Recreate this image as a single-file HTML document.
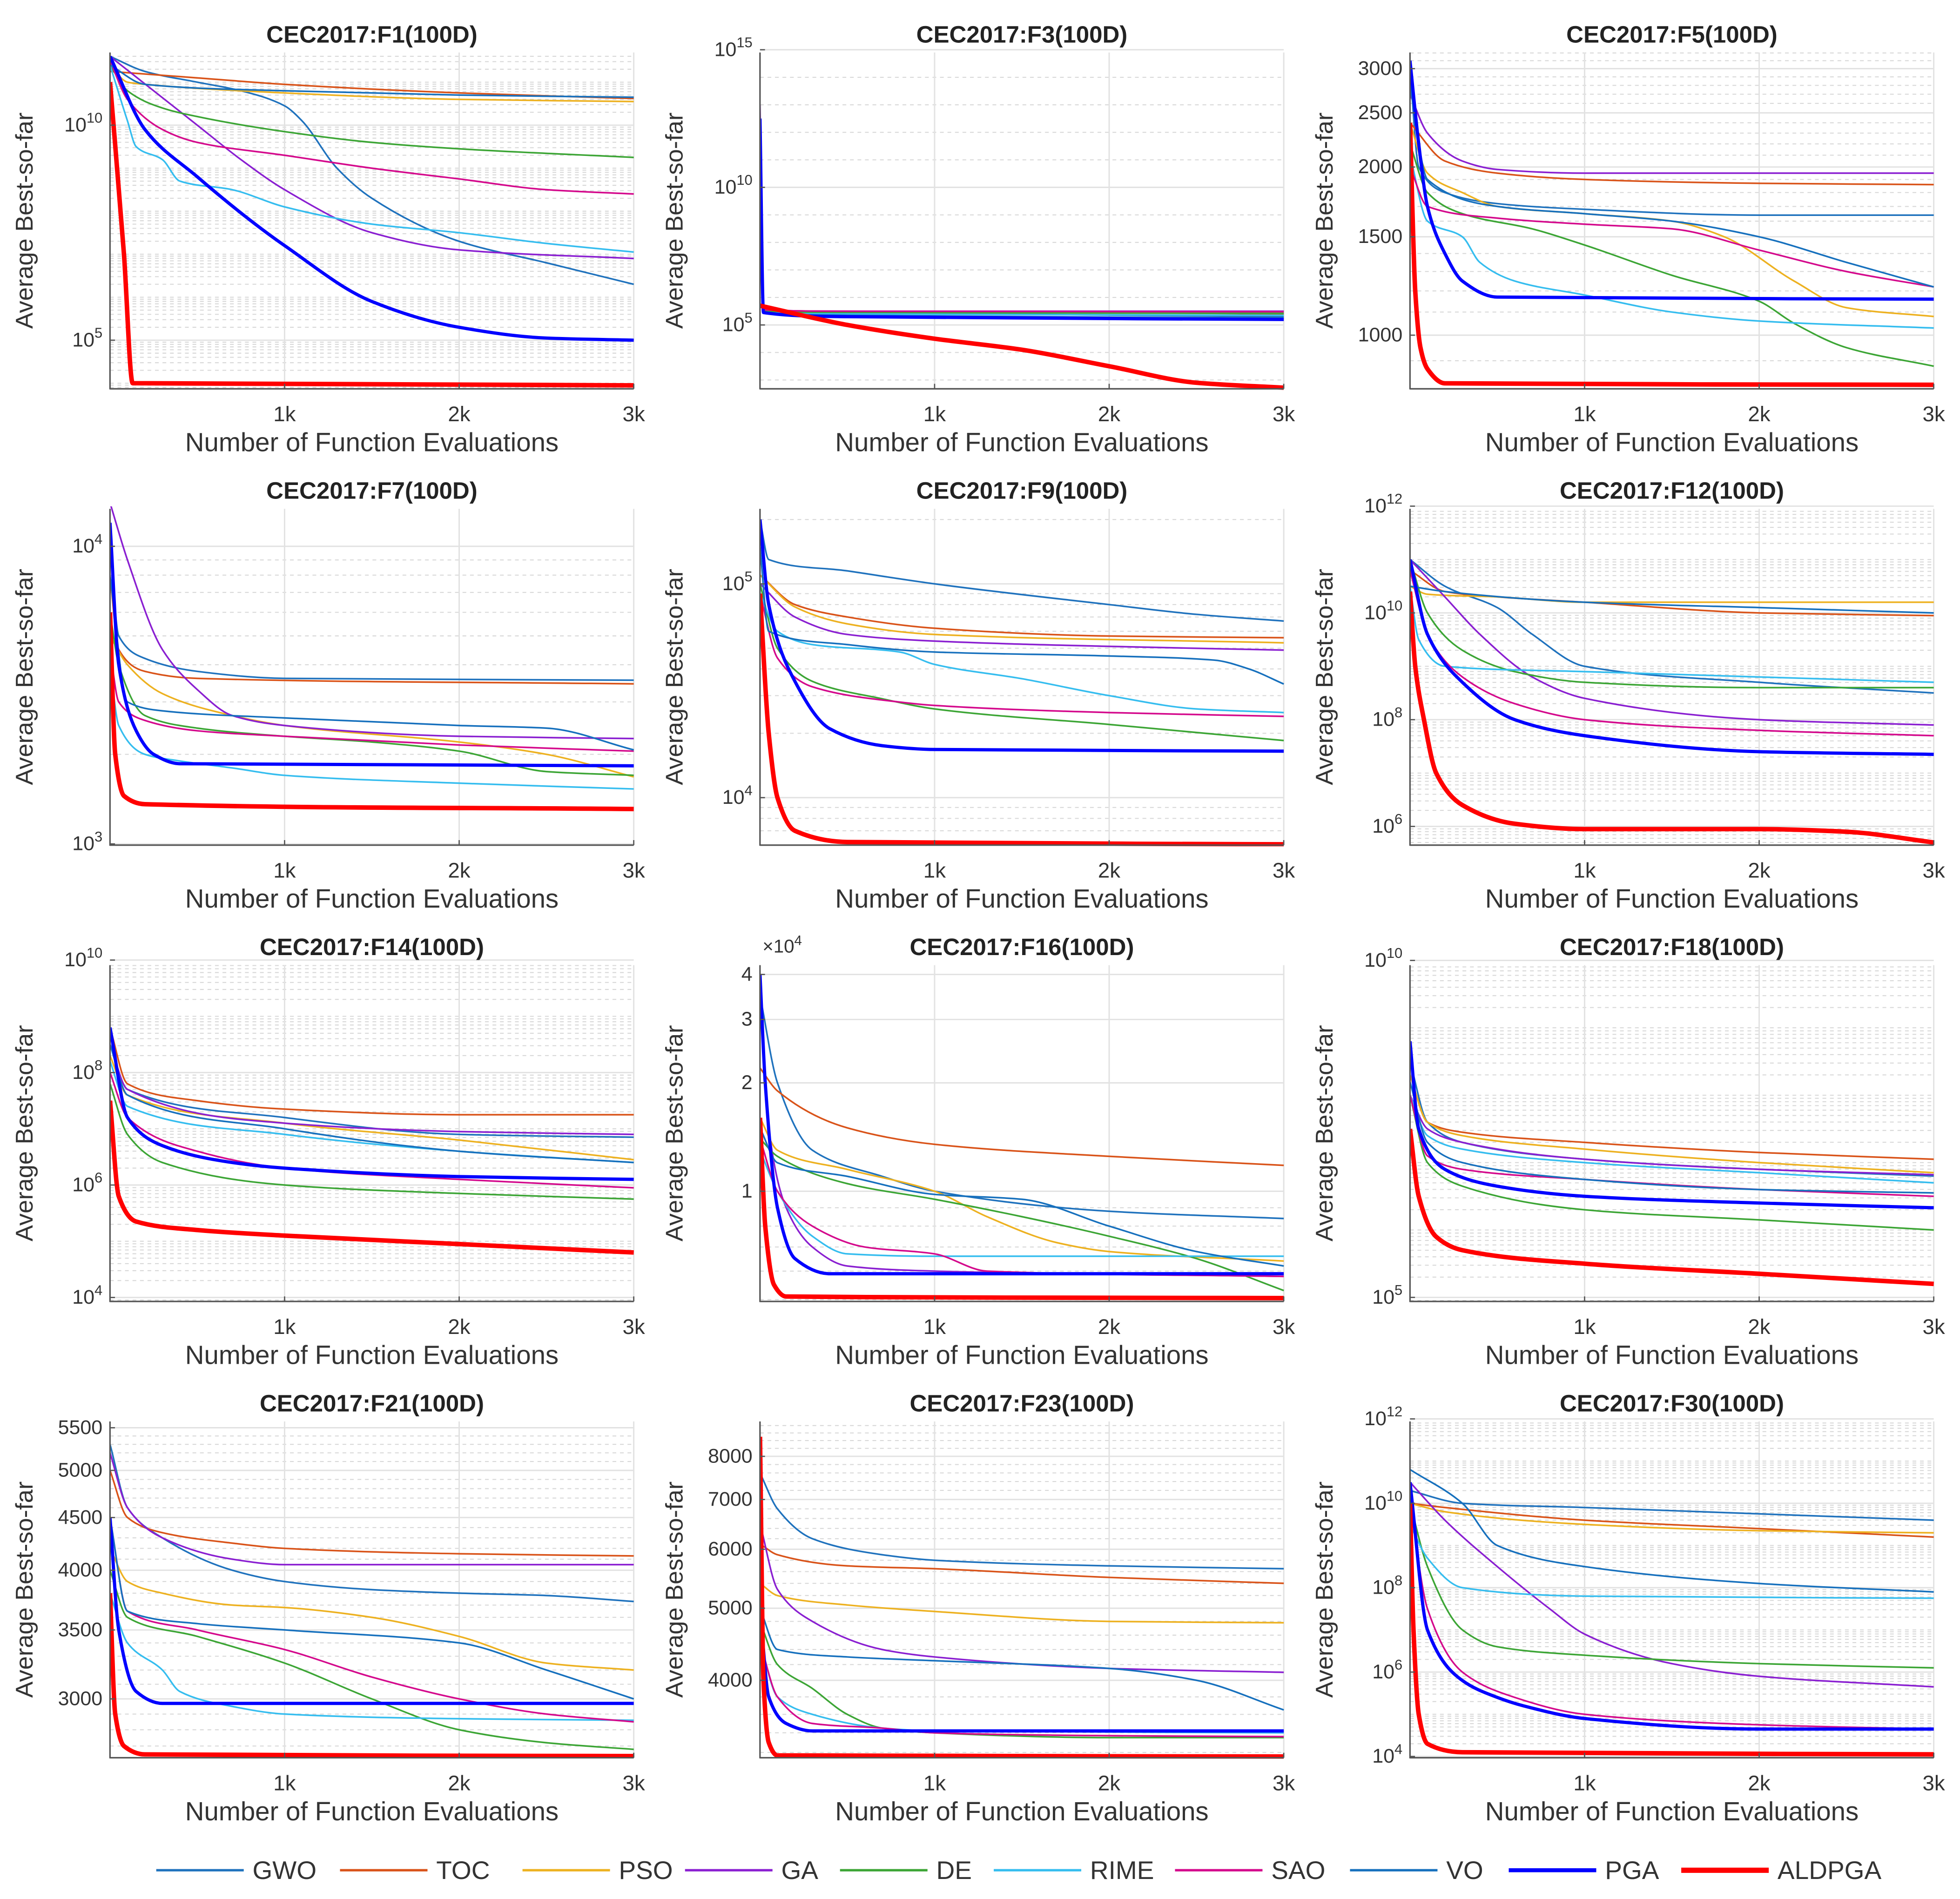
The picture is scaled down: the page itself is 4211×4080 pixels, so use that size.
<!DOCTYPE html>
<html><head><meta charset="utf-8"><title>CEC2017 convergence curves</title>
<style>
html,body{margin:0;padding:0;background:#fff;}
svg{display:block;font-family:"Liberation Sans",Arial,sans-serif;}
</style></head>
<body>
<svg id="fig" width="4211" height="4080" viewBox="0 0 1568 1519" preserveAspectRatio="none" xmlns="http://www.w3.org/2000/svg">
<rect x="0" y="0" width="1568" height="1519" fill="#fff"/>
<g id="panels"></g>
<g id="legend"></g>
</svg>
<script>
const algNames = ["GWO","TOC","PSO","GA","DE","RIME","SAO","VO","PGA","ALDPGA"];
const algColors = ["#1f72bd","#d95319","#edb120","#8a1fd1","#3ca535","#35bdef","#d4098c","#1670bd","#0000ff","#ff0000"];
const algWidths = [1.3,1.3,1.3,1.3,1.3,1.3,1.3,1.3,2.6,3.6];
const xTickValues = [1000,2000,3000];
const xTickLabels = ["1k","2k","3k"];

const titles = ["CEC2017:F1(100D)","CEC2017:F3(100D)","CEC2017:F5(100D)","CEC2017:F7(100D)","CEC2017:F9(100D)","CEC2017:F12(100D)","CEC2017:F14(100D)","CEC2017:F16(100D)","CEC2017:F18(100D)","CEC2017:F21(100D)","CEC2017:F23(100D)","CEC2017:F30(100D)"];
const expMode = [true,true,false,false,false,true,true,false,true,false,false,true];
const yDomains = [[3.87,11.69],[2.68,14.9],[2.904,3.506],[2.996,4.126],[3.778,5.351],[5.65,11.95],[3.93,9.91],[-0.306,0.628],[4.94,9.93],[3.42,3.7465],[3.498,3.95],[3.97,11.94]];
const yTicksF1 = [5,10], yTicksF3=[5,10,15], yTicksF5=[1000,1500,2000,2500,3000], yTicksF7=[3,4], yTicksF9=[4,5], yTicksF12=[6,8,10,12], yTicksF14=[4,6,8,10], yTicksF16=[1,2,3,4], yTicksF18=[5,10], yTicksF21=[3000,3500,4000,4500,5000,5500], yTicksF23=[4000,5000,6000,7000,8000], yTicksF30=[4,6,8,10,12];
const yTicks = [yTicksF1,yTicksF3,yTicksF5,yTicksF7,yTicksF9,yTicksF12,yTicksF14,yTicksF16,yTicksF18,yTicksF21,yTicksF23,yTicksF30];
const yTickIsPow = [true,true,false,true,true,true,true,false,true,false,false,true];
const minorStep = [0,0,100,0,0,0,0,0,0,100,200,0];

const F1 = {
 GWO:[[0,11.6],[200,11.25],[500,11.0],[750,10.8],[1000,10.45],[1100,10.1],[1300,9.0],[1500,8.3],[2000,7.3],[2500,6.8],[3000,6.3]],
 TOC:[[0,11.25],[500,11.1],[1000,10.95],[2000,10.75],[3000,10.62]],
 PSO:[[0,11.4],[100,11.0],[200,10.95],[1000,10.75],[2000,10.6],[3000,10.55]],
 GA:[[0,11.6],[500,10.0],[750,9.2],[1000,8.5],[1500,7.5],[2000,7.1],[3000,6.9]],
 DE:[[0,11.4],[100,10.8],[300,10.4],[500,10.2],[1000,9.85],[1500,9.6],[2000,9.45],[3000,9.25]],
 RIME:[[0,11.4],[100,10.1],[150,9.5],[300,9.2],[400,8.7],[700,8.5],[1000,8.1],[1500,7.7],[2000,7.5],[2500,7.25],[3000,7.05]],
 SAO:[[0,11.5],[100,10.6],[300,9.9],[500,9.6],[1000,9.3],[1500,9.0],[2000,8.75],[2500,8.5],[3000,8.4]],
 VO:[[0,11.4],[200,10.95],[1000,10.8],[2000,10.7],[3000,10.65]],
 PGA:[[0,11.6],[200,9.9],[500,8.8],[800,7.8],[1000,7.2],[1500,5.9],[2000,5.3],[2500,5.05],[3000,5.0]],
 ALDPGA:[[0,11.0],[80,7.0],[130,4.0],[3000,3.95]]
};
const F3 = {
 GWO:[[0,12.5],[20,5.5],[500,5.45],[3000,5.3]],
 TOC:[[0,11.5],[20,5.5],[500,5.5],[3000,5.4]],
 PSO:[[0,11.0],[20,5.45],[500,5.45],[3000,5.45]],
 GA:[[0,13.0],[20,5.55],[500,5.5],[3000,5.5]],
 DE:[[0,12.0],[20,5.5],[500,5.45],[3000,5.42]],
 RIME:[[0,11.0],[20,5.45],[500,5.4],[3000,5.35]],
 SAO:[[0,12.0],[20,5.55],[500,5.5],[3000,5.48]],
 VO:[[0,12.0],[20,5.45],[500,5.35],[3000,5.25]],
 PGA:[[0,12.5],[20,5.45],[500,5.3],[3000,5.2]],
 ALDPGA:[[0,5.7],[500,5.0],[1000,4.5],[1500,4.1],[2000,3.5],[2500,2.9],[3000,2.72]]
};
const F5 = {
 GWO:[[0,3000],[50,2000],[200,1800],[500,1720],[1000,1680],[2000,1640],[3000,1640]],
 TOC:[[0,2400],[200,2050],[500,1950],[1000,1900],[2000,1870],[3000,1860]],
 PSO:[[0,2400],[100,1950],[300,1800],[500,1700],[1000,1650],[1500,1600],[1800,1500],[2200,1250],[2500,1120],[3000,1080]],
 GA:[[0,2700],[100,2300],[300,2050],[500,1980],[1000,1950],[3000,1950]],
 DE:[[0,2200],[100,1800],[300,1650],[700,1550],[1000,1450],[1500,1280],[2000,1150],[2200,1050],[2500,950],[3000,880]],
 RIME:[[0,2100],[100,1600],[300,1500],[400,1350],[600,1250],[1000,1180],[1500,1100],[2000,1060],[3000,1030]],
 SAO:[[0,2000],[100,1700],[500,1620],[1000,1580],[1500,1550],[2000,1420],[2500,1300],[3000,1220]],
 VO:[[0,2800],[100,1900],[500,1700],[1000,1650],[1500,1600],[2000,1500],[2500,1350],[3000,1220]],
 PGA:[[0,3100],[50,2200],[100,1700],[200,1400],[300,1250],[500,1170],[3000,1160]],
 ALDPGA:[[0,2400],[30,1200],[60,950],[100,870],[200,820],[3000,815]]
};
const F7 = {
 GWO:[[0,10000],[50,5000],[200,4200],[500,3800],[1000,3600],[3000,3550]],
 TOC:[[0,8000],[50,4500],[200,3800],[500,3600],[3000,3450]],
 PSO:[[0,5000],[100,4000],[300,3200],[700,2700],[1000,2500],[2000,2200],[2500,2000],[3000,1680]],
 GA:[[0,14000],[100,9000],[300,4500],[500,3300],[700,2700],[1000,2500],[2000,2300],[3000,2260]],
 DE:[[0,6000],[50,4000],[200,2700],[500,2450],[1000,2300],[1500,2200],[2000,2050],[2500,1750],[3000,1700]],
 RIME:[[0,4000],[50,2500],[200,2000],[400,1900],[700,1800],[1000,1700],[2000,1600],[3000,1530]],
 SAO:[[0,4500],[50,3000],[200,2600],[500,2400],[1000,2300],[2000,2150],[3000,2050]],
 VO:[[0,8000],[100,3000],[300,2800],[1000,2650],[2000,2500],[2500,2450],[3000,2070]],
 PGA:[[0,12000],[50,4000],[150,2400],[250,2000],[400,1860],[3000,1830]],
 ALDPGA:[[0,6000],[30,2000],[80,1450],[200,1360],[3000,1310]]
};
const F9 = {
 GWO:[[0,200000],[50,130000],[500,115000],[1000,100000],[2000,80000],[2500,72000],[3000,67000]],
 TOC:[[0,110000],[200,80000],[500,70000],[1000,62000],[2000,57000],[3000,56000]],
 PSO:[[0,110000],[200,78000],[500,65000],[1000,58000],[3000,53000]],
 GA:[[0,100000],[200,70000],[500,58000],[1000,54000],[2000,51000],[3000,49000]],
 DE:[[0,100000],[100,50000],[300,35000],[700,29000],[1000,26000],[2000,22000],[3000,18500]],
 RIME:[[0,90000],[100,60000],[300,52000],[800,48000],[1000,42000],[1500,36000],[2000,30000],[2500,26000],[3000,25000]],
 SAO:[[0,90000],[100,45000],[300,33000],[800,28000],[1000,27000],[2000,25000],[3000,24000]],
 VO:[[0,150000],[50,60000],[500,52000],[1000,48000],[2000,46000],[2600,44000],[2800,40000],[3000,34000]],
 PGA:[[0,200000],[50,80000],[200,35000],[400,21000],[700,17500],[1000,16800],[3000,16500]],
 ALDPGA:[[0,90000],[50,20000],[100,10000],[200,7000],[500,6200],[3000,6050]]
};
const F12 = {
 GWO:[[0,11.0],[200,10.5],[500,10.1],[700,9.6],[1000,9.0],[2000,8.7],[3000,8.5]],
 TOC:[[0,10.8],[200,10.4],[500,10.3],[1000,10.2],[2000,10.0],[3000,9.95]],
 PSO:[[0,10.5],[100,10.35],[500,10.3],[1000,10.2],[3000,10.2]],
 GA:[[0,11.0],[200,10.3],[400,9.6],[700,8.8],[1000,8.4],[2000,8.0],[3000,7.9]],
 DE:[[0,11.0],[100,10.0],[300,9.3],[600,8.9],[1000,8.7],[2000,8.6],[3000,8.6]],
 RIME:[[0,10.5],[50,9.5],[200,9.0],[1000,8.9],[2000,8.8],[3000,8.7]],
 SAO:[[0,10.8],[100,9.6],[300,8.8],[600,8.3],[1000,8.0],[2000,7.8],[3000,7.7]],
 VO:[[0,10.5],[200,10.4],[1000,10.2],[2000,10.1],[3000,10.0]],
 PGA:[[0,11.0],[100,9.6],[300,8.7],[600,8.0],[1000,7.7],[2000,7.4],[3000,7.35]],
 ALDPGA:[[0,10.4],[30,9.0],[80,8.0],[150,7.0],[300,6.4],[600,6.05],[1000,5.95],[2000,5.95],[2500,5.9],[3000,5.7]]
};
const F14 = {
 GWO:[[0,8.5],[100,7.7],[1000,7.2],[2000,6.9],[3000,6.85]],
 TOC:[[0,8.8],[100,7.8],[500,7.5],[1000,7.35],[2000,7.25],[3000,7.25]],
 PSO:[[0,8.3],[100,7.6],[1000,7.1],[2000,6.8],[3000,6.45]],
 GA:[[0,8.5],[100,7.7],[1000,7.1],[2000,6.95],[3000,6.9]],
 DE:[[0,7.8],[100,6.9],[300,6.4],[1000,6.0],[2000,5.85],[3000,5.75]],
 RIME:[[0,8.2],[100,7.4],[1000,6.9],[2000,6.6],[3000,6.4]],
 SAO:[[0,8.0],[100,7.2],[500,6.6],[1000,6.3],[2000,6.1],[3000,5.95]],
 VO:[[0,8.5],[100,7.6],[1000,7.0],[2000,6.6],[3000,6.4]],
 PGA:[[0,8.8],[100,7.2],[300,6.7],[700,6.4],[1000,6.3],[2000,6.15],[3000,6.1]],
 ALDPGA:[[0,7.5],[50,5.8],[150,5.35],[500,5.2],[1000,5.1],[2000,4.95],[3000,4.8]]
};
const F16 = {
 GWO:[[0,3.5],[100,2.0],[300,1.3],[700,1.1],[1000,1.0],[2000,0.88],[3000,0.84]],
 TOC:[[0,2.2],[100,1.9],[500,1.5],[1000,1.35],[2000,1.25],[3000,1.18]],
 PSO:[[0,1.6],[100,1.3],[500,1.15],[1000,1.0],[1300,0.85],[1700,0.72],[2000,0.68],[3000,0.64]],
 GA:[[0,4.0],[50,1.5],[150,0.9],[300,0.7],[500,0.62],[1000,0.6],[3000,0.58]],
 DE:[[0,1.4],[100,1.25],[500,1.05],[1000,0.95],[1500,0.85],[2000,0.75],[2500,0.65],[3000,0.53]],
 RIME:[[0,1.3],[100,1.0],[300,0.75],[500,0.67],[1000,0.66],[2000,0.66],[3000,0.66]],
 SAO:[[0,1.4],[100,1.0],[300,0.8],[600,0.7],[1000,0.67],[1300,0.6],[3000,0.58]],
 VO:[[0,1.5],[100,1.2],[500,1.1],[1000,0.98],[1500,0.95],[2000,0.8],[2500,0.68],[3000,0.62]],
 PGA:[[0,4.0],[30,2.0],[100,0.9],[200,0.65],[400,0.59],[3000,0.59]],
 ALDPGA:[[0,1.6],[30,0.8],[80,0.55],[150,0.51],[3000,0.505]]
};
const F18 = {
 GWO:[[0,8.5],[100,7.6],[300,7.3],[1000,7.05],[2000,6.9],[3000,6.8]],
 TOC:[[0,8.3],[100,7.6],[300,7.45],[1000,7.3],[2000,7.15],[3000,7.05]],
 PSO:[[0,8.3],[100,7.6],[300,7.4],[1000,7.2],[2000,7.0],[3000,6.85]],
 GA:[[0,8.0],[100,7.5],[300,7.3],[1000,7.05],[2000,6.9],[3000,6.82]],
 DE:[[0,8.0],[100,7.0],[300,6.65],[1000,6.3],[2000,6.15],[3000,6.0]],
 RIME:[[0,8.0],[100,7.4],[300,7.2],[1000,7.0],[2000,6.85],[3000,6.7]],
 SAO:[[0,8.0],[100,7.1],[300,6.9],[1000,6.75],[2000,6.6],[3000,6.5]],
 VO:[[0,8.2],[100,7.3],[300,7.0],[1000,6.75],[2000,6.6],[3000,6.55]],
 PGA:[[0,8.8],[50,7.5],[200,6.9],[500,6.65],[1000,6.5],[2000,6.4],[3000,6.33]],
 ALDPGA:[[0,7.5],[50,6.5],[150,5.9],[300,5.7],[1000,5.5],[2000,5.35],[3000,5.2]]
};
const F21 = {
 GWO:[[0,5300],[100,4600],[300,4300],[700,4000],[1000,3900],[1500,3830],[2000,3800],[2500,3780],[3000,3730]],
 TOC:[[0,5000],[100,4500],[300,4350],[700,4250],[1000,4200],[2000,4150],[3000,4130]],
 PSO:[[0,4200],[100,3900],[300,3800],[700,3700],[1000,3680],[1500,3600],[2000,3450],[2500,3250],[3000,3200]],
 GA:[[0,5200],[100,4600],[300,4300],[700,4100],[1000,4050],[3000,4050]],
 DE:[[0,4000],[100,3600],[500,3450],[1000,3250],[1500,3000],[2000,2800],[2500,2720],[3000,2680]],
 RIME:[[0,3800],[100,3400],[300,3200],[400,3050],[700,2950],[1000,2900],[2000,2870],[3000,2860]],
 SAO:[[0,4500],[100,3650],[500,3500],[1000,3350],[1500,3150],[2000,3000],[2500,2900],[3000,2850]],
 VO:[[0,4500],[100,3650],[500,3550],[1000,3500],[2000,3400],[2500,3200],[3000,3000]],
 PGA:[[0,4500],[50,3500],[150,3050],[300,2970],[3000,2970]],
 ALDPGA:[[0,3800],[30,2900],[80,2700],[200,2650],[3000,2640]]
};
const F23 = {
 GWO:[[0,7600],[100,6800],[300,6200],[700,5900],[1000,5800],[2000,5700],[3000,5650]],
 TOC:[[0,6100],[100,5900],[500,5700],[1000,5650],[2000,5500],[3000,5400]],
 PSO:[[0,5400],[100,5200],[500,5050],[1000,4950],[2000,4800],[3000,4780]],
 GA:[[0,6500],[100,5300],[300,4800],[700,4400],[1000,4300],[2000,4150],[3000,4100]],
 DE:[[0,4800],[100,4200],[300,3900],[500,3600],[700,3450],[1000,3400],[2000,3350],[3000,3350]],
 RIME:[[0,4500],[100,3800],[300,3600],[700,3450],[1000,3420],[3000,3400]],
 SAO:[[0,4500],[100,3800],[300,3500],[700,3450],[1000,3400],[2000,3370],[3000,3360]],
 VO:[[0,5000],[100,4400],[500,4300],[1000,4250],[2000,4150],[2500,4000],[3000,3650]],
 PGA:[[0,5000],[50,3800],[150,3500],[300,3420],[3000,3420]],
 ALDPGA:[[0,8500],[20,4000],[50,3300],[100,3170],[3000,3160]]
};
const F30 = {
 GWO:[[0,10.3],[300,10.0],[1000,9.9],[2000,9.75],[3000,9.6]],
 TOC:[[0,10.0],[200,9.9],[1000,9.6],[2000,9.4],[3000,9.2]],
 PSO:[[0,10.0],[200,9.8],[1000,9.5],[2000,9.35],[3000,9.3]],
 GA:[[0,10.5],[200,9.6],[500,8.5],[800,7.5],[1000,6.9],[1500,6.2],[2000,5.9],[3000,5.65]],
 DE:[[0,10.0],[100,8.5],[300,7.0],[500,6.6],[1000,6.4],[2000,6.2],[3000,6.1]],
 RIME:[[0,9.5],[100,8.7],[300,8.0],[1000,7.8],[3000,7.75]],
 SAO:[[0,10.0],[100,7.5],[300,6.0],[600,5.4],[1000,5.0],[2000,4.75],[3000,4.65]],
 VO:[[0,10.8],[300,10.0],[500,9.0],[1000,8.5],[2000,8.1],[3000,7.9]],
 PGA:[[0,10.5],[100,7.0],[300,5.8],[500,5.4],[650,5.2],[1000,4.9],[2000,4.65],[3000,4.65]],
 ALDPGA:[[0,10.0],[20,7.0],[50,5.0],[100,4.3],[300,4.1],[3000,4.05]]
};
const panelData = [F1,F3,F5,F7,F9,F12,F14,F16,F18,F21,F23,F30];

const NS = "http://www.w3.org/2000/svg";
const colLeft = [88,608,1128], rowTop = [42,407,772,1137], PW = 419, PH = 269;
function mk(tag, attrs, parent){ const e=document.createElementNS(NS,tag); for(const k in attrs) e.setAttribute(k,attrs[k]); if(parent) parent.appendChild(e); return e; }
function monoPath(pts){
  const n=pts.length; if(n<2) return "";
  const dx=[],m=[],t=[];
  for(let i=0;i<n-1;i++){dx[i]=pts[i+1][0]-pts[i][0]; m[i]=(pts[i+1][1]-pts[i][1])/(dx[i]||1e-9);}
  t[0]=m[0]; t[n-1]=m[n-2];
  for(let i=1;i<n-1;i++){ t[i]=(m[i-1]*m[i]<=0)?0:(dx[i-1]+dx[i])*3/((2*dx[i]+dx[i-1])/m[i-1]+(dx[i]+2*dx[i-1])/m[i]); }
  let d="M"+pts[0][0].toFixed(2)+","+pts[0][1].toFixed(2);
  for(let i=0;i<n-1;i++){ const h=dx[i]/3;
    d+="C"+(pts[i][0]+h).toFixed(2)+","+(pts[i][1]+h*t[i]).toFixed(2)+" "+(pts[i+1][0]-h).toFixed(2)+","+(pts[i+1][1]-h*t[i+1]).toFixed(2)+" "+pts[i+1][0].toFixed(2)+","+pts[i+1][1].toFixed(2); }
  return d;
}
const root = document.getElementById("panels");
panelData.forEach((data, p) => {
  const L = colLeft[p%3], T = rowTop[Math.floor(p/3)];
  const [lmin,lmax] = yDomains[p];
  const isExp = expMode[p];
  const xS = v => L + PW*v/3000;
  const yL = lv => T + PH*(lmax-lv)/(lmax-lmin);
  const yS = v => yL(isExp ? v : Math.log10(v));
  const g = mk("g",{},root);
  
  
  const gg = mk("g",{},g);
  
  
  const span = lmax-lmin;
  if (minorStep[p] > 0) {
    const lo = Math.pow(10,lmin), hi = Math.pow(10,lmax);
    for (let v = Math.ceil(lo/minorStep[p])*minorStep[p]; v <= hi; v += minorStep[p]) {
      if (yTicks[p].indexOf(v) >= 0) continue;
      const y = yL(Math.log10(v));
      mk("line",{x1:L,x2:L+PW,y1:y,y2:y,stroke:"#d8d8d8","stroke-width":0.8,"stroke-dasharray":"3,3"},gg);
    }
  } else {
    for (let k=Math.floor(lmin); k<=Math.ceil(lmax); k++) {
      const ms = span > 8 ? [1] : [1,2,3,4,5,6,7,8,9];
      ms.forEach(mm => {
        const lv = k + Math.log10(mm);
        if (lv < lmin || lv > lmax) return;
        const tickVal = yTickIsPow[p] ? lv : Math.pow(10,lv);
        if (yTicks[p].some(tv => Math.abs(tv - tickVal) < 1e-6)) return;
        const y = yL(lv);
        mk("line",{x1:L,x2:L+PW,y1:y,y2:y,stroke:"#d8d8d8","stroke-width":0.8,"stroke-dasharray":"3,3"},gg);
      });
    }
  }
  yTicks[p].forEach(tv => {
    const y = yTickIsPow[p] ? yL(tv) : yL(Math.log10(tv));
    mk("line",{x1:L,x2:L+PW,y1:y,y2:y,stroke:"#e2e2e2","stroke-width":1.1},gg);
  });
  xTickValues.forEach(xv => { const x=xS(xv); mk("line",{x1:x,x2:x,y1:T,y2:T+PH,stroke:"#e2e2e2","stroke-width":1.1},gg); });
  const cid = "clip"+p;
  const cp = mk("clipPath",{id:cid},g); mk("rect",{x:L,y:T-2,width:PW+2,height:PH+3},cp);
  const sg = mk("g",{"clip-path":"url(#"+cid+")"},g);
  algNames.forEach((name,i) => {
    const pts = data[name].map(d => [xS(d[0]), yS(d[1])]);
    const path = mk("path",{d:monoPath(pts),fill:"none",stroke:algColors[i],"stroke-width":algWidths[i],"stroke-linejoin":"round"},sg);
    
    
  });
  const ax = mk("g",{},g);
  
  
  mk("line",{x1:L,x2:L,y1:T,y2:T+PH+0.5,stroke:"#555","stroke-width":1.2},ax);
  mk("line",{x1:L,x2:L+PW,y1:T+PH,y2:T+PH,stroke:"#555","stroke-width":1.2},ax);
  xTickValues.forEach((xv,k) => {
    const x=xS(xv);
    mk("line",{x1:x,x2:x,y1:T+PH,y2:T+PH-4,stroke:"#555","stroke-width":1},ax);
    const t = mk("text",{x:x,y:T+PH+26,"font-size":17,"text-anchor":"middle",fill:"#333"},ax);
    t.textContent = xTickLabels[k];
    
    
  });
  yTicks[p].forEach(tv => {
    const y = yTickIsPow[p] ? yL(tv) : yL(Math.log10(tv));
    mk("line",{x1:L,x2:L+4,y1:y,y2:y,stroke:"#555","stroke-width":1},ax);
    const t = mk("text",{x:L-6,y:y+5,"font-size":16,"text-anchor":"end",fill:"#333"},ax);
    
    
    if (yTickIsPow[p]) {
      t.textContent = "10";
      const s = mk("tspan",{"font-size":11.5,dy:-7},t); s.textContent = String(tv);
    } else t.textContent = String(tv);
  });
  if (p === 7) {
    const t = mk("text",{x:L+2,y:T-10,"font-size":15,fill:"#333"},ax);
    t.textContent = "×10";
    const s = mk("tspan",{"font-size":11,dy:-6},t); s.textContent = "4";
    
    
  }
  const tt = mk("text",{x:L+PW/2,y:T-8,"font-size":19,"font-weight":"bold","text-anchor":"middle",fill:"#222"},g);
  tt.textContent = titles[p];
  
  
  const xl = mk("text",{x:L+PW/2,y:T+PH+50,"font-size":21,"text-anchor":"middle",fill:"#333"},g);
  xl.textContent = "Number of Function Evaluations";
  
  
  const yx = L-62, yy = T+PH/2;
  const yl = mk("text",{x:yx,y:yy,"font-size":19.5,"text-anchor":"middle",fill:"#333",transform:"rotate(-90 "+yx+" "+yy+")"},g);
  yl.textContent = "Average Best-so-far";
  
  
});
const legend = document.getElementById("legend");
const legLineX = [125,272,418,548,672,795,940,1080,1207,1345];
algNames.forEach((name,i) => {
  const eg = mk("g",{},legend);
  
  
  const x0 = legLineX[i];
  mk("line",{x1:x0,x2:x0+70,y1:1496,y2:1496,stroke:algColors[i],"stroke-width":algWidths[i]+0.6},eg);
  const t = mk("text",{x:x0+77,y:1503,"font-size":20.5,fill:"#333"},eg);
  t.textContent = name;
});
</script>
</body></html>
